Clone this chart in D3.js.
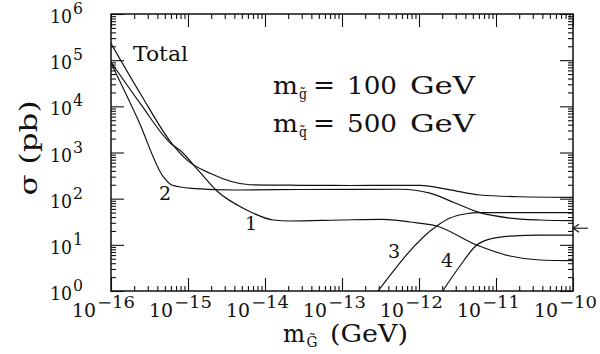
<!DOCTYPE html>
<html>
<head>
<meta charset="utf-8">
<script src="https://cdn.jsdelivr.net/npm/d3@7/dist/d3.min.js"></script>
<style>
  html, body { margin: 0; padding: 0; background: #fff; }
  svg { display: block; }
  text { font-family: "DejaVu Serif", "Liberation Serif", serif; fill: #111; }
</style>
</head>
<body>
<svg id="chart" width="600" height="354"></svg>
<script>
// ---- data (gravitino mass in GeV, cross section in pb) ----
const massTotal  = [1e-16, 2.38e-16, 6.14e-16, 1e-15, 1.93e-15, 6.38e-15, 2.85e-14, 1.27e-13, 1.03e-12, 2.53e-12, 6.19e-12, 2.04e-11, 1e-10];
const sigmaTotal = [2.3e5, 1.95e4, 1580, 660, 355, 200, 195, 193, 195, 155, 120, 110, 107];

const mass1  = [1e-16, 2.38e-16, 6.14e-16, 7.87e-16, 1.35e-15, 2.36e-15, 5.78e-15, 1.28e-14, 2.11e-14, 9.42e-14, 3.40e-13, 7.64e-13, 1.70e-12, 5.62e-12, 1.52e-11, 3.72e-11, 1e-10];
const sigma1 = [9.1e4, 1.17e4, 1510, 1120, 417, 148, 56.8, 34.5, 32.8, 34.5, 35.7, 31.2, 25.6, 9.9, 5.73, 4.69, 4.53];

const mass2  = [1e-16, 2.26e-16, 4.77e-16, 6.14e-16, 1.12e-15, 4.07e-15, 2.85e-14, 5.66e-13, 1.39e-12, 2.94e-12, 6.19e-12, 1.52e-11, 3.72e-11, 1e-10];
const sigma2 = [8.7e4, 5000, 300, 198, 167, 154, 158, 160, 132, 80.5, 49.7, 38, 34.5, 33.3];

const mass3  = [2.94e-13, 1.70e-12, 2.53e-12, 3.95e-12, 6.19e-12, 2.04e-11, 1e-10];
const sigma3 = [1, 25.6, 38, 46.6, 49.7, 50, 49.7];

const mass4  = [2.03e-12, 3.40e-12, 5.62e-12, 8.36e-12, 1.52e-11, 3.72e-11, 1e-10];
const sigma4 = [1, 3.48, 9.9, 13.4, 15.5, 16.3, 16.3];

const curveLabels = ["Total", "1", "2", "3", "4"];
const xTickExp = [-16, -15, -14, -13, -12, -11, -10];
const yTickExp = [0, 1, 2, 3, 4, 5, 6];
const arrowSigma = 22.9;   // marker on the right axis
const gluinoMass = "100";
const squarkMass = "500";

// ---- layout ----
const svg = d3.select("#chart");
const L = 111, R = 573, T = 14, B = 291;
const x = d3.scaleLog().domain([1e-16, 1e-10]).range([L, R]);
const y = d3.scaleLog().domain([1, 1e6]).range([B, T]);

const majorX = xTickExp.map(e => Math.pow(10, e));
const majorY = yTickExp.map(e => Math.pow(10, e));
const minorX = [], minorY = [];
xTickExp.slice(0, -1).forEach(e => { for (let k = 2; k <= 9; k++) minorX.push(k * Math.pow(10, e)); });
yTickExp.slice(0, -1).forEach(e => { for (let k = 2; k <= 9; k++) minorY.push(k * Math.pow(10, e)); });

function axisGroup(axis, tx, ty) {
  const g = svg.append("g").attr("transform", `translate(${tx},${ty})`).call(axis);
  g.select(".domain").remove();
  g.selectAll("line").attr("stroke", "#111").attr("stroke-width", 1.1);
  g.selectAll("text").remove();
  return g;
}
// major ticks
axisGroup(d3.axisBottom(x).tickValues(majorX).tickSize(-13).tickFormat(""), 0, B);
axisGroup(d3.axisTop(x).tickValues(majorX).tickSize(-13).tickFormat(""), 0, T);
axisGroup(d3.axisLeft(y).tickValues(majorY).tickSize(-13).tickFormat(""), L, 0);
axisGroup(d3.axisRight(y).tickValues(majorY).tickSize(-13).tickFormat(""), R, 0);
// minor ticks
axisGroup(d3.axisBottom(x).tickValues(minorX).tickSize(-5).tickFormat(""), 0, B);
axisGroup(d3.axisTop(x).tickValues(minorX).tickSize(-5).tickFormat(""), 0, T);
axisGroup(d3.axisLeft(y).tickValues(minorY).tickSize(-5).tickFormat(""), L, 0);
axisGroup(d3.axisRight(y).tickValues(minorY).tickSize(-5).tickFormat(""), R, 0);

// frame
svg.append("rect").attr("x", L).attr("y", T).attr("width", R - L).attr("height", B - T)
  .attr("fill", "none").attr("stroke", "#111").attr("stroke-width", 1.5);

// curves
const clip = svg.append("clipPath").attr("id", "plotclip");
clip.append("rect").attr("x", L).attr("y", T).attr("width", R - L).attr("height", B - T);
const line = d3.line().x(d => x(d[0])).y(d => y(d[1])).curve(d3.curveMonotoneX);
const series = [
  [massTotal, sigmaTotal], [mass1, sigma1], [mass2, sigma2], [mass3, sigma3], [mass4, sigma4]
];
svg.append("g").attr("clip-path", "url(#plotclip)")
  .selectAll("path").data(series).join("path")
  .attr("d", s => line(s[0].map((m, i) => [m, s[1][i]])))
  .attr("fill", "none").attr("stroke", "#111").attr("stroke-width", 1.2);

// text helper
function txt(px, py, size, str, opts) {
  opts = opts || {};
  const t = svg.append("text").attr("x", px).attr("y", py).attr("font-size", size)
    .attr("font-family", "DejaVu Serif")
    .attr("text-anchor", opts.anchor || "start").text(str);
  if (opts.len) t.attr("textLength", opts.len).attr("lengthAdjust", "spacingAndGlyphs");
  return t;
}

// x tick labels
xTickExp.forEach(e => {
  const px = x(Math.pow(10, e));
  txt(px - 39, 317, 19, "10", { len: 24 });
  txt(px - 14, 308, 16, "\u2212" + Math.abs(e), { len: 38 });
});
// y tick labels
yTickExp.forEach(e => {
  const py = y(Math.pow(10, e));
  txt(50, py + 9, 18, "10", { len: 22 });
  txt(73, py, 16, String(e), { len: 10 });
});

// curve labels
const labelPos = [[133, 61, "start", 55], [251, 230, "middle"], [165, 200, "middle"], [394, 258, "middle"], [447, 267, "middle"]];
curveLabels.forEach((lab, i) => {
  const p = labelPos[i];
  txt(p[0], p[1], i === 0 ? 21 : 19, lab, { anchor: p[2], len: p[3] });
});

// x axis title: m_G~ (GeV)
txt(283, 342, 24, "m", { len: 22 });
txt(306.5, 347, 15, "G\u0303", { len: 11 });
txt(330, 342, 25, "(GeV)", { len: 78 });

// y axis title: sigma (pb)
svg.append("text").attr("transform", "translate(37,148) rotate(-90)")
  .attr("font-size", 25).attr("font-family", "DejaVu Serif").attr("text-anchor", "middle")
  .attr("textLength", 95).attr("lengthAdjust", "spacingAndGlyphs").text("\u03c3 (pb)");

// annotation
function massLine(py, sub, val) {
  txt(273, py, 25, "m", { len: 25 });
  txt(299, py + 5, 15, sub + "\u0303", { len: 8 });
  txt(313, py - 1, 25, "=", { len: 22 });
  txt(347, py, 25, val, { len: 50 });
  txt(410, py, 25, "GeV", { len: 65 });
}
massLine(94, "g", gluinoMass);
massLine(131.5, "q", squarkMass);

// arrow on right axis
const ay = y(arrowSigma);
svg.append("line").attr("x1", R).attr("x2", R + 15).attr("y1", ay).attr("y2", ay)
  .attr("stroke", "#111").attr("stroke-width", 1.1);
svg.append("path").attr("d", `M${R + 6},${ay - 4} L${R},${ay} L${R + 6},${ay + 4}`)
  .attr("fill", "none").attr("stroke", "#111").attr("stroke-width", 1.1);
</script>
</body>
</html>
